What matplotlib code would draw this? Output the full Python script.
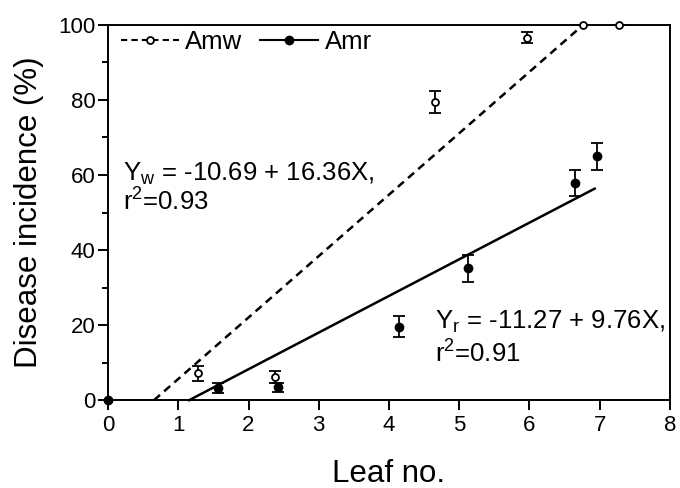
import matplotlib
matplotlib.use("Agg")
import matplotlib.pyplot as plt
from matplotlib.lines import Line2D
import numpy as np

plt.rcParams['font.family'] = ['Liberation Sans', 'DejaVu Sans']

# Amw (open symbols)
amw_x = [0, 1.28, 2.38, 4.65, 5.97, 6.77, 7.28]
amw_y = [0, 7.2, 6.2, 79.5, 96.6, 100, 100]
amw_err = [0, 2.0, 1.7, 3.0, 1.4, 0, 0]

# Amr (filled symbols)
amr_x = [0, 1.57, 2.42, 4.14, 5.13, 6.65, 6.96]
amr_y = [0, 3.3, 3.4, 19.6, 35.1, 57.9, 65.0]
amr_err = [0, 1.3, 1.2, 2.9, 3.6, 3.4, 3.6]

# regression lines (intercept, slope, x-range)
fit_w = (-10.69, 16.36)
fit_w_x = [0.653, 6.77]
fit_r = (-11.27, 9.76)
fit_r_x = [1.155, 6.93]

fig = plt.figure(figsize=(6.8, 4.88), dpi=100)
ax = fig.add_axes([0.159, 0.180, 0.826, 0.769])

xw = np.array(fit_w_x)
ax.plot(xw, fit_w[0] + fit_w[1] * xw, color='black', linestyle=(0, (3.2, 2.2)), linewidth=1.8, clip_on=False)
xr = np.array(fit_r_x)
ax.plot(xr, fit_r[0] + fit_r[1] * xr, color='black', linestyle='-', linewidth=1.8, clip_on=False)

ax.errorbar(amw_x, amw_y, yerr=amw_err, fmt='o', mfc='white', mec='black', mew=1.3,
            ms=5, color='black', ecolor='black', elinewidth=1.3, capsize=4, capthick=1.3,
            clip_on=False, zorder=3)
ax.errorbar(amr_x, amr_y, yerr=amr_err, fmt='o', mfc='black', mec='black',
            ms=6, color='black', ecolor='black', elinewidth=1.3, capsize=4, capthick=1.3,
            clip_on=False, zorder=4)

ax.set_xlim(0, 8)
ax.set_ylim(0, 100)
ax.set_xticks(np.arange(0, 9, 1))
ax.set_yticks(np.arange(0, 101, 20))
ax.set_yticks(np.arange(10, 100, 20), minor=True)
ax.tick_params(axis='x', which='major', direction='out', length=7, width=1.4, labelsize=16, pad=4)
ax.tick_params(axis='y', which='major', direction='out', length=7, width=1.4, labelsize=16, pad=2)
ax.tick_params(axis='y', which='minor', direction='out', length=4, width=1.4)
for s in ax.spines.values():
    s.set_linewidth(1.4)

ax.set_xlabel('Leaf no.', fontsize=22.5, labelpad=16)
ax.set_ylabel('Disease incidence (%)', fontsize=22.5, labelpad=10)

ax.text(0.21, 58.5, r'Y$_\mathregular{w}$ = -10.69 + 16.36X,', fontsize=18.5, va='baseline', ha='left')
ax.text(0.21, 50.7, r'r$^\mathregular{2}$=0.93', fontsize=18.5, va='baseline', ha='left')
ax.text(4.65, 19.1, r'Y$_\mathregular{r}$ = -11.27 + 9.76X,', fontsize=18.5, va='baseline', ha='left')
ax.text(4.65, 10.4, r'r$^\mathregular{2}$=0.91', fontsize=18.5, va='baseline', ha='left')

handles = [
    Line2D([], [], color='black', linestyle=(0, (3, 2)), linewidth=1.5, marker='o',
           mfc='white', mec='black', ms=5, mew=1.3),
    Line2D([], [], color='black', linestyle='-', linewidth=1.5, marker='o',
           mfc='black', mec='black', ms=6),
]
ax.legend(handles, ['Amw', 'Amr'], loc='upper left', ncol=2, frameon=False, fontsize=18.5,
          handlelength=2.25, handletextpad=0.25, columnspacing=0.7,
          borderaxespad=0.1, bbox_to_anchor=(0.0, 1.02))

fig.savefig('out.png', dpi=100)
